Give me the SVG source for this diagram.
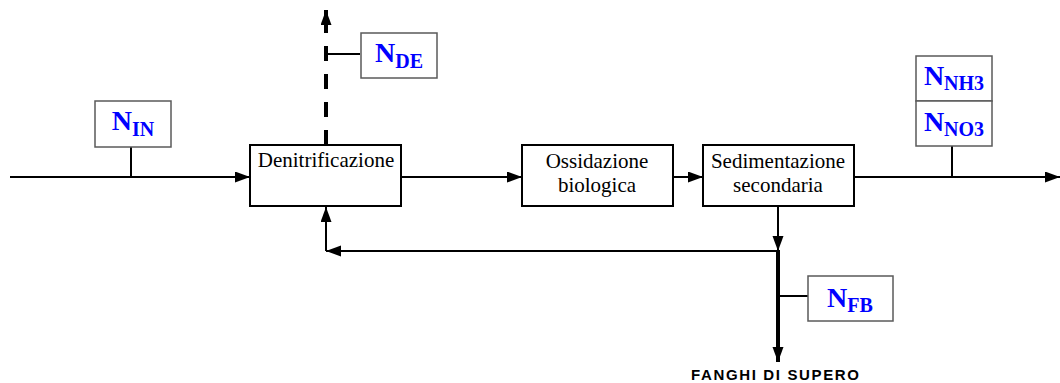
<svg xmlns="http://www.w3.org/2000/svg" width="1060" height="383" viewBox="0 0 1060 383">
<defs>
<marker id="ah" markerUnits="userSpaceOnUse" markerWidth="16" markerHeight="12" refX="15" refY="5.5" orient="auto"><path d="M0,0 L15,5.5 L0,11 z" fill="#000"/></marker>
<style>
.box{fill:#fff;stroke:#000;stroke-width:2}
.lbl{fill:#fff;stroke:#5a5a5a;stroke-width:1.5}
.t{font-family:"Liberation Serif","Times New Roman",serif;font-size:21px;fill:#000;text-anchor:middle}
.n{font-family:"Liberation Serif","Times New Roman",serif;font-weight:bold;fill:#0000ff;text-anchor:middle}
.big{font-size:28px}
.sub{font-size:20px}
.c{fill:none;stroke:#000;stroke-width:2}
.thick{fill:none;stroke:#000;stroke-width:4}
</style>
</defs>
<g id="connectors">
<line class="c" x1="10" y1="177" x2="250" y2="177" marker-end="url(#ah)"/>
<line class="c" x1="131" y1="147" x2="131" y2="177"/>
<line class="c" x1="401" y1="177" x2="522" y2="177" marker-end="url(#ah)"/>
<line class="c" x1="673" y1="177" x2="703" y2="177" marker-end="url(#ah)"/>
<line class="c" x1="854" y1="177" x2="1060" y2="177" marker-end="url(#ah)"/>
<line class="c" x1="952" y1="146" x2="952" y2="177"/>
<line class="thick" x1="326" y1="145" x2="326" y2="23" stroke-dasharray="15 13"/>
<line class="thick" x1="326" y1="32" x2="326" y2="10" marker-end="url(#ah)"/>
<line class="c" x1="326" y1="54" x2="360" y2="54"/>
<line class="c" x1="778" y1="207" x2="778" y2="251" marker-end="url(#ah)"/>
<line class="c" x1="778" y1="251" x2="326" y2="251" marker-end="url(#ah)"/>
<line class="c" x1="326" y1="251" x2="326" y2="207" marker-end="url(#ah)"/>
<line class="thick" x1="778" y1="250" x2="778" y2="362" marker-end="url(#ah)"/>
<line class="c" x1="778" y1="296" x2="808" y2="296"/>
</g>
<g id="n-in">
<rect class="lbl" x="95" y="101" width="76" height="46"/>
<text class="n" x="133" y="130"><tspan class="big">N</tspan><tspan class="sub" dy="6">IN</tspan></text>
</g>
<g id="n-de">
<rect class="lbl" x="361" y="33" width="76" height="45"/>
<text class="n" x="399" y="62"><tspan class="big">N</tspan><tspan class="sub" dy="6">DE</tspan></text>
</g>
<g id="n-nh3">
<rect class="lbl" x="916" y="56" width="76" height="45"/>
<text class="n" x="954" y="85"><tspan class="big">N</tspan><tspan class="sub" dy="5">NH3</tspan></text>
</g>
<g id="n-no3">
<rect class="lbl" x="916" y="101" width="76" height="45"/>
<text class="n" x="954" y="131"><tspan class="big">N</tspan><tspan class="sub" dy="5">NO3</tspan></text>
</g>
<g id="n-fb">
<rect class="lbl" x="808" y="276" width="85" height="45"/>
<text class="n" x="850" y="307"><tspan class="big">N</tspan><tspan class="sub" dy="5">FB</tspan></text>
</g>
<g id="denitrificazione">
<rect class="box" x="250" y="145" width="151" height="61"/>
<text class="t" x="326" y="167">Denitrificazione</text>
</g>
<g id="ossidazione">
<rect class="box" x="522" y="145" width="151" height="61"/>
<text class="t" x="597" y="168">Ossidazione</text>
<text class="t" x="597" y="192">biologica</text>
</g>
<g id="sedimentazione">
<rect class="box" x="703" y="145" width="151" height="61"/>
<text class="t" x="778" y="168">Sedimentazione</text>
<text class="t" x="778" y="192">secondaria</text>
</g>
<g id="fanghi">
<text x="775" y="380" font-family="'Liberation Sans',Arial,sans-serif" font-weight="bold" font-size="15" text-anchor="middle" textLength="168" lengthAdjust="spacing" fill="#000">FANGHI DI SUPERO</text>
</g>
</svg>
